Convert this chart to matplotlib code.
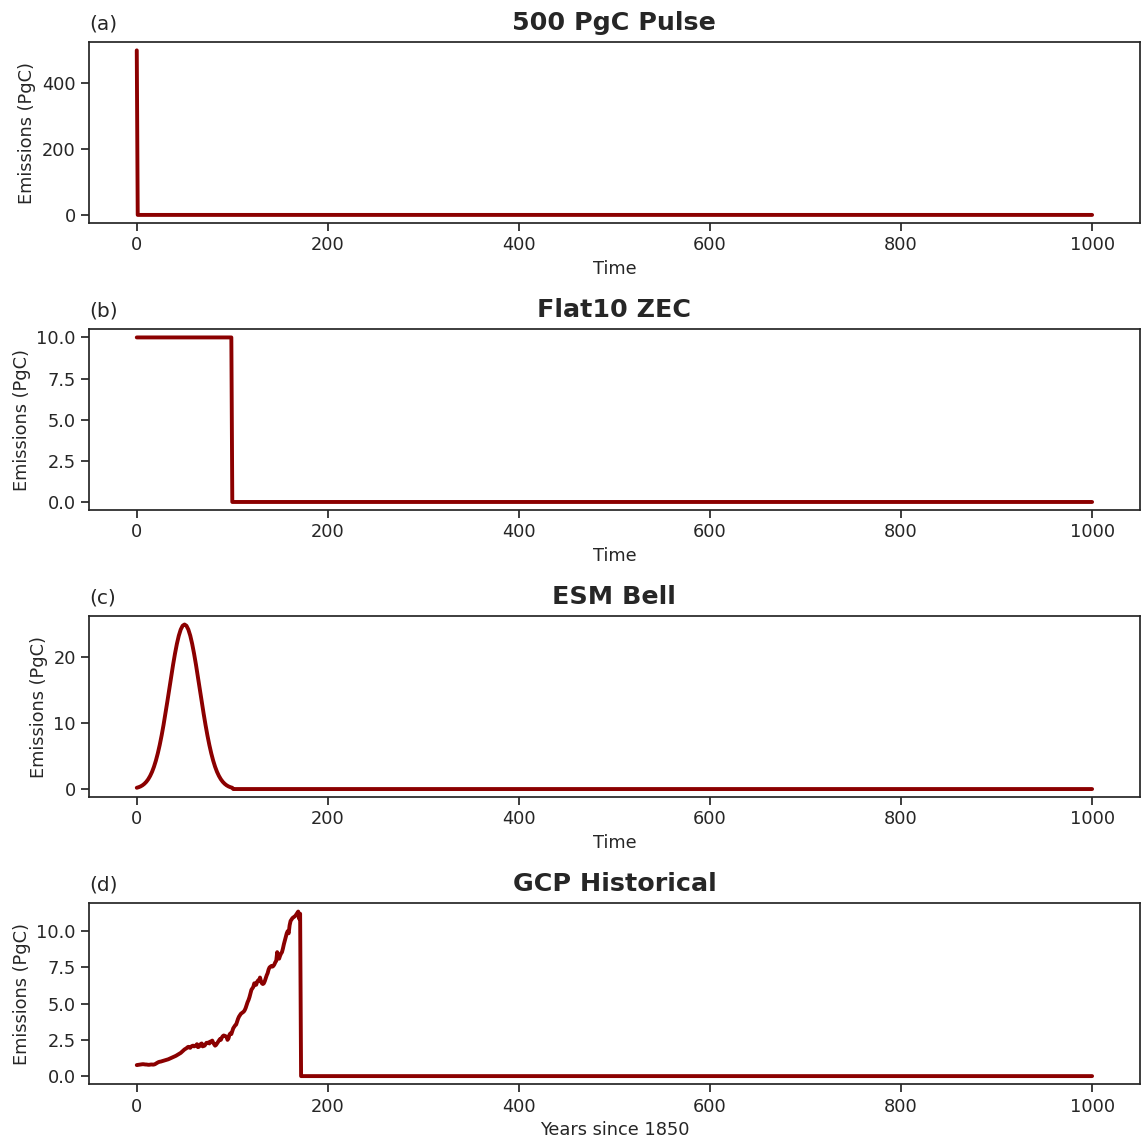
import numpy as np
import matplotlib
matplotlib.use("Agg")
import matplotlib.pyplot as plt
import seaborn as sns

sns.set_theme(style="ticks")
plt.rcParams['font.family'] = ['DejaVu Sans']

N_YEARS = 1001

# 500 PgC pulse in the first year
pulse_years = [0, 1]
pulse_values = [500.0, 0.0]

# flat 10 PgC/yr for 100 years, then zero
flat10_years = [0, 99, 100]
flat10_values = [10.0, 10.0, 0.0]

# bell-shaped emissions, 2-year steps over the first century
bell_years = list(range(0, 101, 2))
bell_values = [
    0.19, 0.28, 0.40, 0.57, 0.80, 1.10, 1.49, 1.99, 2.61, 3.38,
    4.31, 5.41, 6.68, 8.12, 9.72, 11.45, 13.28, 15.16, 17.05, 18.87,
    20.56, 22.06, 23.30, 24.23, 24.81, 25.00, 24.81, 24.23, 23.30, 22.06,
    20.56, 18.87, 17.05, 15.16, 13.28, 11.45, 9.72, 8.12, 6.68, 5.41,
    4.31, 3.38, 2.61, 1.99, 1.49, 1.10, 0.80, 0.57, 0.40, 0.28,
    0.19,
]

# GCP historical emissions 1850-2021 (PgC/yr)
gcp_values = [
    0.76, 0.77, 0.78, 0.79, 0.80, 0.81, 0.82, 0.82, 0.81, 0.80,
    0.80, 0.79, 0.78, 0.78, 0.79, 0.80, 0.80, 0.79, 0.80, 0.82,
    0.86, 0.90, 0.94, 0.97, 0.99, 1.00, 1.02, 1.04, 1.06, 1.08,
    1.10, 1.12, 1.14, 1.16, 1.19, 1.22, 1.25, 1.28, 1.31, 1.34,
    1.37, 1.40, 1.44, 1.48, 1.52, 1.56, 1.60, 1.66, 1.72, 1.78,
    1.84, 1.88, 1.92, 1.98, 2.02, 1.97, 1.95, 2.04, 2.08, 2.10,
    2.05, 2.08, 2.12, 2.20, 2.00, 2.02, 2.10, 2.22, 2.25, 2.05,
    2.15, 2.10, 2.20, 2.30, 2.28, 2.32, 2.25, 2.38, 2.40, 2.45,
    2.30, 2.20, 2.10, 2.15, 2.25, 2.35, 2.45, 2.55, 2.50, 2.65,
    2.75, 2.80, 2.78, 2.75, 2.70, 2.50, 2.60, 2.85, 2.95, 2.90,
    3.10, 3.30, 3.40, 3.50, 3.55, 3.75, 3.95, 4.10, 4.20, 4.30,
    4.35, 4.40, 4.45, 4.55, 4.70, 4.90, 5.10, 5.25, 5.45, 5.70,
    5.95, 6.05, 6.15, 6.40, 6.40, 6.30, 6.50, 6.60, 6.55, 6.80,
    6.55, 6.40, 6.35, 6.40, 6.55, 6.75, 6.95, 7.10, 7.35, 7.50,
    7.55, 7.60, 7.55, 7.60, 7.70, 7.85, 7.95, 8.55, 8.20, 8.10,
    8.30, 8.45, 8.55, 8.80, 9.10, 9.35, 9.60, 9.85, 10.00, 9.85,
    10.40, 10.70, 10.80, 10.90, 10.95, 11.00, 11.05, 11.15, 11.25, 11.35,
    10.85, 11.20,
]

titles = ["500 PgC Pulse", "Flat10 ZEC", "ESM Bell", "GCP Historical"]
panel_tags = ["(a)", "(b)", "(c)", "(d)"]
xlabels = ["Time", "Time", "Time", "Years since 1850"]


def pad_zeros(years, values):
    # extend a scenario with zero emissions out to year 1000
    last = years[-1]
    tail = np.arange(last + 1, N_YEARS)
    x = np.concatenate([np.asarray(years, dtype=float), tail])
    y = np.concatenate([np.asarray(values, dtype=float), np.zeros(len(tail))])
    return x, y


series = [
    pad_zeros(pulse_years, pulse_values),
    pad_zeros(flat10_years, flat10_values),
    pad_zeros(bell_years, bell_values),
    pad_zeros(list(range(len(gcp_values))) + [len(gcp_values)], gcp_values + [0.0]),
]

fig, axes = plt.subplots(4, 1, figsize=(11.41, 11.39), dpi=100)
fig.subplots_adjust(left=0.078, right=0.999, top=0.963, bottom=0.048, hspace=0.586)

for ax, (x, y), title, tag, xl in zip(axes, series, titles, panel_tags, xlabels):
    ax.plot(x, y, color="darkred", lw=2.8)
    ax.set_title(title, fontsize=18.3, fontweight="bold", color="#262626", pad=9)
    ax.set_title(tag, loc="left", fontsize=14.5, color="#262626", pad=9)
    ax.set_xlabel(xl, fontsize=12.8, color="#262626")
    ax.set_ylabel("Emissions (PgC)", fontsize=12.8, color="#262626")
    ax.tick_params(labelsize=12.8, colors="#262626")
    for s in ax.spines.values():
        s.set_visible(True)
        s.set_color("#262626")

fig.savefig("out.png", dpi=100)
